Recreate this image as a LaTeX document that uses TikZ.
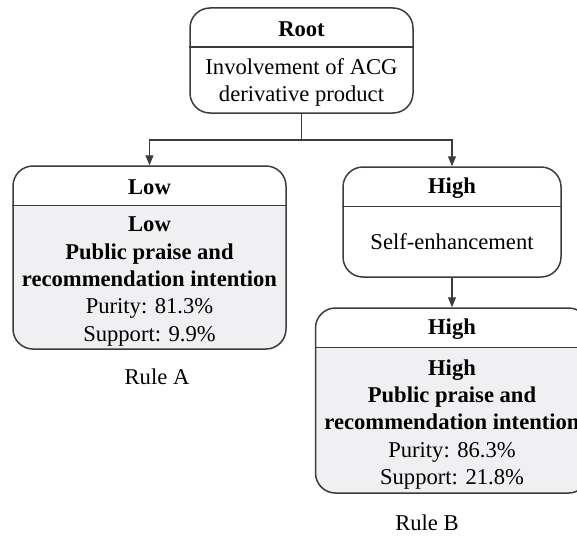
\documentclass[tikz,border=0pt]{standalone}
\usepackage{fontspec}
\setmainfont{Liberation Serif}
\usetikzlibrary{shapes,arrows.meta,positioning,calc,backgrounds}
\definecolor{bodygray}{RGB}{240,240,242}
\definecolor{linegray}{RGB}{60,60,60}

\begin{document}
\begin{tikzpicture}[x=0.5pt,y=-0.5pt]
  \tikzstyle{box}=[draw=linegray, line width=0.75pt, rounded corners=10pt, inner sep=0pt]
  \tikzstyle{txt}=[font=\fontsize{11.3}{13.7}\selectfont, align=center, inner sep=0pt]
  \tikzstyle{headtxt}=[txt, font=\fontsize{11.3}{13.7}\selectfont\bfseries]
  \tikzstyle{divider}=[draw=linegray, line width=0.75pt]
  \tikzstyle{conn}=[-{Triangle[length=5pt,width=4pt]}, line width=0.55pt, draw=linegray]
  \useasboundingbox (0,0) rectangle (577,535);

  % Cajas del arbol
  \node[box, minimum width=111.5pt, minimum height=52.5pt] (root) at (301.5,60.5) {};
  \node[box, minimum width=136.5pt, minimum height=91.5pt] (low) at (149.5,257.5) {};
  \node[box, minimum width=109pt, minimum height=55pt] (high) at (452,222) {};
  \node[box, minimum width=136.5pt, minimum height=92.5pt] (highrule) at (452,400.5) {};

  % Fondo gris de las hojas
  \begin{scope}[on background layer]
    \begin{scope}
      \clip[rounded corners=10pt] (low.north west) rectangle (low.south east);
      \fill[bodygray] ([yshift=-20pt]low.north west) rectangle (low.south east);
    \end{scope}
    \begin{scope}
      \clip[rounded corners=10pt] (highrule.north west) rectangle (highrule.south east);
      \fill[bodygray] ([yshift=-20pt]highrule.north west) rectangle (highrule.south east);
    \end{scope}
  \end{scope}

  % Separadores de cabecera
  \foreach \n in {root, low, high, highrule}
    \draw[divider] ([yshift=-20pt]\n.north west) -- ([yshift=-20pt]\n.north east);

  % Textos
  \node[headtxt] (roothead) at ([yshift=-10.8pt]root.north) {Root};
  \node[txt] (rootbody) at ($([yshift=-21pt]root.north)!0.5!([yshift=-1pt]root.south)$) {Involvement of ACG\\derivative product};
  \node[headtxt] (lowhead) at ([yshift=-10.8pt]low.north) {Low};
  \node[txt] (lowbody) at ($([yshift=-22pt]low.north)!0.5!([yshift=-2pt]low.south)$)
    {\textbf{Low}\\\textbf{Public praise and}\\\textbf{recommendation intention}\\Purity: 81.3\%\\Support: 9.9\%};
  \node[headtxt] (highhead) at ([yshift=-10.8pt]high.north) {High};
  \node[txt] (highbody) at ($([yshift=-20pt]high.north)!0.5!(high.south)$) {Self-enhancement};
  \node[headtxt] (rulehead) at ([yshift=-10.8pt]highrule.north) {High};
  \node[txt] (rulebody) at ($([yshift=-22pt]highrule.north)!0.5!([yshift=-2pt]highrule.south)$)
    {\textbf{High}\\\textbf{Public praise and}\\\textbf{recommendation intention}\\Purity: 86.3\%\\Support: 21.8\%};
  \node[txt] (rulea) at (157,377) {Rule A};
  \node[txt] (ruleb) at (427,523) {Rule B};

  % Conexiones
  \coordinate (split) at (301.5,140);
  \draw[conn] (root.south) -- (split) -| (low.north);
  \draw[conn] (split) -| (high.north);
  \draw[conn] (high.south) -- (highrule.north);
\end{tikzpicture}
\end{document}
